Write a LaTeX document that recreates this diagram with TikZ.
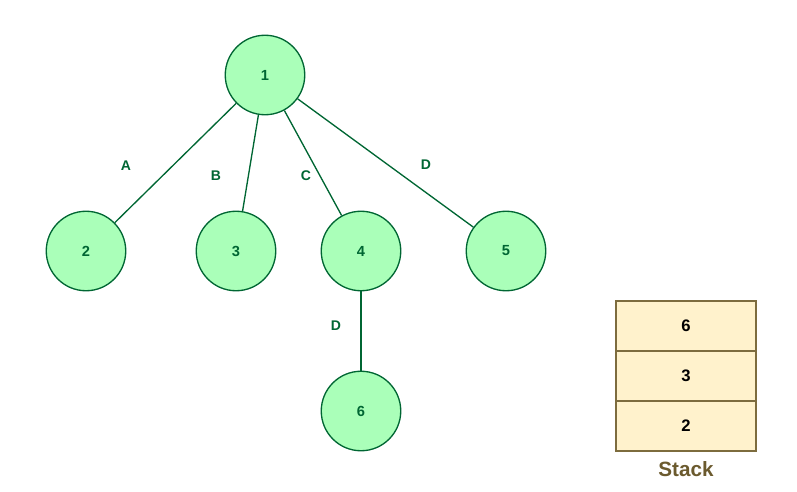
\documentclass[tikz,border=0pt]{standalone}
\usepackage{fontspec}
\setmainfont{Liberation Sans}
\definecolor{nodefill}{RGB}{170,255,185}
\definecolor{nodeline}{RGB}{0,102,51}
\definecolor{stackfill}{RGB}{255,242,204}
\definecolor{stackline}{RGB}{125,108,62}
\definecolor{stacktext}{RGB}{107,90,46}
\tikzset{
  vtx/.style={circle,draw=nodeline,fill=nodefill,line width=1pt,minimum size=79.5*0.75pt,inner sep=0pt,text=nodeline,font=\bfseries\fontsize{11}{13}\selectfont},
  elbl/.style={text=nodeline,font=\bfseries\fontsize{10.5}{12}\selectfont},
  cell/.style={draw=stackline,fill=stackfill,line width=1pt,minimum width=140*0.75pt,minimum height=50*0.75pt,inner sep=0pt,font=\bfseries\fontsize{12.5}{15}\selectfont},
}
\begin{document}
\begin{tikzpicture}[x=0.75pt,y=-0.75pt]
\useasboundingbox (0,0) rectangle (797,492);
% tree
\node[vtx] (n1) at (265,75) {1};
\node[vtx] (n2) at (86,251) {2};
\node[vtx] (n3) at (236,251) {3};
\node[vtx] (n4) at (361,251) {4};
\node[vtx] (n5) at (506,251) {5};
\node[vtx] (n6) at (361,411) {6};
\draw[nodeline,line width=1pt] (n1)--(n2);
\draw[nodeline,line width=1pt] (n1)--(n3);
\draw[nodeline,line width=1pt] (n1)--(n4);
\draw[nodeline,line width=1pt] (n1)--(n5);
\draw[nodeline,line width=1pt] (n4)--(n6);
\node[elbl] (la) at (126,166) {A};
\node[elbl] (lb) at (216,176) {B};
\node[elbl] (lc) at (306,176) {C};
\node[elbl] (ld) at (426,165) {D};
\node[elbl] (le) at (336,326) {D};
% stack
\node[cell] (s6) at (686,326) {6};
\node[cell] (s3) at (686,376) {3};
\node[cell] (s2) at (686,426) {2};
\node[text=stacktext,font=\bfseries\fontsize{15.5}{18}\selectfont] (stk) at (686,469) {Stack};
\end{tikzpicture}
\end{document}
